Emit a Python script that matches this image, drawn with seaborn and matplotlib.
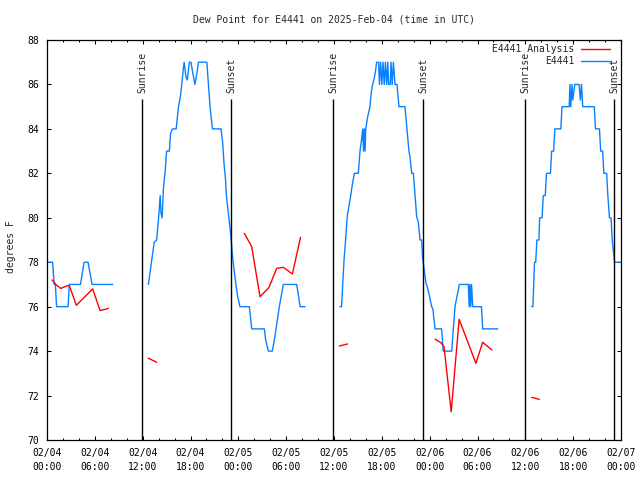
import matplotlib
matplotlib.use("Agg")
import matplotlib.pyplot as plt
import matplotlib.dates as mdates
from matplotlib.lines import Line2D
import seaborn as sns
import pandas as pd

START = pd.Timestamp("2025-02-04 00:00")

# E4441 observed dew point, hours since 02/04 00:00 UTC, one list per unbroken stretch
obs_hours = [
    [0.0, 0.7, 0.9, 1.05, 1.2, 2.65, 2.8, 4.2, 4.65, 5.15, 5.65, 8.25],
    [12.72, 13.1, 13.45, 13.75, 14.0, 14.2, 14.3, 14.45, 14.6, 14.85, 15.0, 15.35, 15.5, 15.75,
     16.2, 16.5, 16.75, 16.9, 17.1, 17.2, 17.45, 17.6, 17.85, 18.05, 18.3, 18.55, 18.8, 19.0,
     20.05, 20.25, 20.45, 20.75, 21.83, 22.04, 22.2, 22.4, 22.5, 22.8, 23.0, 23.1, 23.32, 23.67,
     23.9, 24.2, 25.38, 25.68, 27.26, 27.43, 27.77, 28.26, 28.47, 28.73, 29.14, 29.64, 31.32,
     31.5, 31.74, 32.36],
    [36.75, 36.95, 37.09, 37.26, 37.47, 37.67, 38.1, 38.3, 38.55, 39.05, 39.26, 39.45, 39.6,
     39.7, 39.8, 39.9, 39.98, 40.2, 40.5, 40.7, 40.85, 41.06, 41.2, 41.35, 41.6, 41.7, 41.85,
     42.0, 42.15, 42.3, 42.45, 42.6, 42.75, 42.85, 43.05, 43.15, 43.3, 43.45, 43.65, 43.9,
     44.15, 44.9, 45.2, 45.4, 45.55, 45.75, 45.95, 46.15, 46.37, 46.58, 46.79, 47.0, 47.1,
     47.33, 47.54, 47.7, 47.96, 48.25, 48.4, 48.67, 49.5, 49.7, 50.77, 50.97, 51.18, 51.45,
     51.72, 52.85, 52.95, 53.05, 53.15, 53.25, 53.4, 54.5, 54.65, 56.54],
    [60.8, 60.95, 61.05, 61.15, 61.3, 61.45, 61.7, 61.8, 62.1, 62.25, 62.5, 62.65, 63.15, 63.3,
     63.55, 63.7, 64.45, 64.6, 65.5, 65.6, 65.7, 65.85, 65.95, 66.2, 66.75, 66.9, 67.05, 67.2,
     68.65, 68.8, 69.3, 69.45, 69.7, 69.85, 70.2, 70.35, 70.55, 70.75, 70.9, 71.05, 71.2, 71.9],
]
obs_vals = [
    [78, 78, 77, 77, 76, 76, 77, 77, 78, 78, 77, 77],
    [77, 78, 78.9, 79, 80, 81, 80.2, 80, 81.3, 82.2, 83, 83, 83.8, 84,
     84, 85, 85.5, 86, 86.7, 87, 86.3, 86.2, 87, 87, 86.5, 86, 86.5, 87,
     87, 86, 85, 84, 84, 83.35, 82.45, 81.7, 81, 80.05, 79.4, 79, 78.1, 77.05,
     76.5, 76, 76, 75, 75, 74.5, 74, 74, 74.4, 75, 76, 77, 77,
     76.6, 76, 76],
    [76, 76, 77, 78.1, 79.07, 80.1, 81, 81.5, 82, 82, 83, 83.5, 84,
     83, 84, 83, 84, 84.5, 85, 85.7, 86, 86.3, 86.6, 87, 87, 86, 87,
     86, 87, 86, 87, 86, 87, 86, 86, 87, 86, 87, 86, 86,
     85, 85, 83.8, 83, 82.7, 82, 82, 81.1, 80.05, 79.8, 79, 79, 78.25,
     77.6, 77.05, 76.9, 76.5, 76, 75.9, 75, 75, 74, 74, 75, 76, 76.5,
     77, 77, 76, 77, 76, 77, 76, 76, 75, 75],
    [76, 76, 77, 78, 78, 79, 79, 80, 80, 81, 81, 82, 82, 83,
     83, 84, 84, 85, 85, 86, 85, 86, 85.3, 86, 86, 85.3, 86, 85,
     85, 84, 84, 83, 83, 82, 82, 81, 80, 80, 79, 78.5, 78, 78],
]

# E4441 Analysis
ana_hours = [
    [0.63, 1.2, 1.72, 2.45, 2.8, 3.68, 5.73, 6.65, 7.3, 7.7],
    [12.7, 13.76],
    [24.75, 25.68, 26.3, 26.72, 27.85, 28.8, 29.65, 30.78, 31.8],
    [36.67, 37.7],
    [48.67, 49.4, 49.8, 50.7, 51.7, 53.8, 54.65, 55.8],
    [60.8, 61.75],
]
ana_vals = [
    [77.2, 76.97, 76.82, 76.93, 76.95, 76.06, 76.8, 75.83, 75.88, 75.93],
    [73.68, 73.5],
    [79.3, 78.7, 77.35, 76.45, 76.87, 77.72, 77.77, 77.47, 79.12],
    [74.23, 74.32],
    [74.54, 74.38, 74.2, 71.27, 75.43, 73.45, 74.4, 74.05],
    [71.92, 71.83],
]

sunrise = ["2025-02-04 11:55", "2025-02-05 11:55", "2025-02-06 11:57"]
sunset = ["2025-02-04 23:07", "2025-02-05 23:12", "2025-02-06 23:09"]

BLUE = "#0a80ff"
RED = "#ff0000"


def to_frame(hours, vals):
    rows = []
    for seg, (hh, vv) in enumerate(zip(hours, vals)):
        for h, v in zip(hh, vv):
            rows.append({"time": START + pd.Timedelta(hours=h), "dewpt": v, "seg": seg})
    return pd.DataFrame(rows)


obs = to_frame(obs_hours, obs_vals)
ana = to_frame(ana_hours, ana_vals)

sns.set_style("ticks")
plt.rcParams["font.family"] = ["DejaVu Sans Mono"]

fig = plt.figure(figsize=(6.4, 4.8), dpi=100)
ax = fig.add_axes([47 / 640, 40 / 480, 574 / 640, 400 / 480])

sns.lineplot(data=obs, x="time", y="dewpt", units="seg", estimator=None,
             color=BLUE, lw=1, ax=ax)
sns.lineplot(data=ana, x="time", y="dewpt", units="seg", estimator=None,
             color=RED, lw=1, ax=ax)

# sunrise / sunset markers
for label, times in [("Sunrise", sunrise), ("Sunset", sunset)]:
    for t in times:
        t = pd.Timestamp(t)
        ax.vlines(t, 70, 85.35, color="black", lw=1)
        ax.text(t, 85.6, label, rotation=90, ha="center", va="bottom", fontsize=7)

ax.set_xlim(START, START + pd.Timedelta(hours=72))
ax.set_ylim(70, 88)
ax.set_yticks(range(70, 89, 2))
ax.xaxis.set_major_locator(mdates.HourLocator(byhour=[0, 6, 12, 18]))
ax.xaxis.set_minor_locator(mdates.HourLocator(byhour=range(0, 24, 2)))
ax.xaxis.set_major_formatter(mdates.DateFormatter("%m/%d\n%H:%M"))
ax.set_xlabel("")
ax.set_ylabel("")

ax.tick_params(which="both", direction="in", top=True, right=True,
               width=0.75, colors="black", labelsize=7)
ax.tick_params(which="major", length=3)
ax.tick_params(which="minor", length=1.6)
ax.tick_params(axis="y", pad=6)
ax.tick_params(axis="x", pad=6)
for s in ax.spines.values():
    s.set_linewidth(0.9)
    s.set_color("black")

handles = [Line2D([], [], color=RED, lw=1), Line2D([], [], color=BLUE, lw=1)]
ax.legend(handles, ["E4441 Analysis", "E4441"], loc="upper right",
          bbox_to_anchor=((610 - 47) / 574, (440 - 44) / 400), frameon=False,
          markerfirst=False, handlelength=3.0, handletextpad=0.7,
          labelspacing=0.25, borderpad=0, borderaxespad=0, fontsize=7)

fig.text(334 / 640, 1 - 20 / 480, "Dew Point for E4441 on 2025-Feb-04 (time in UTC)",
         ha="center", va="center", fontsize=7)
fig.text(11 / 640, 1 - 247 / 480, "degrees F", rotation=90,
         ha="center", va="center", fontsize=7)

fig.canvas.draw()
for lbl in ax.get_xticklabels():
    lbl.set_linespacing(1.45)

fig.savefig("out.png", dpi=100)
